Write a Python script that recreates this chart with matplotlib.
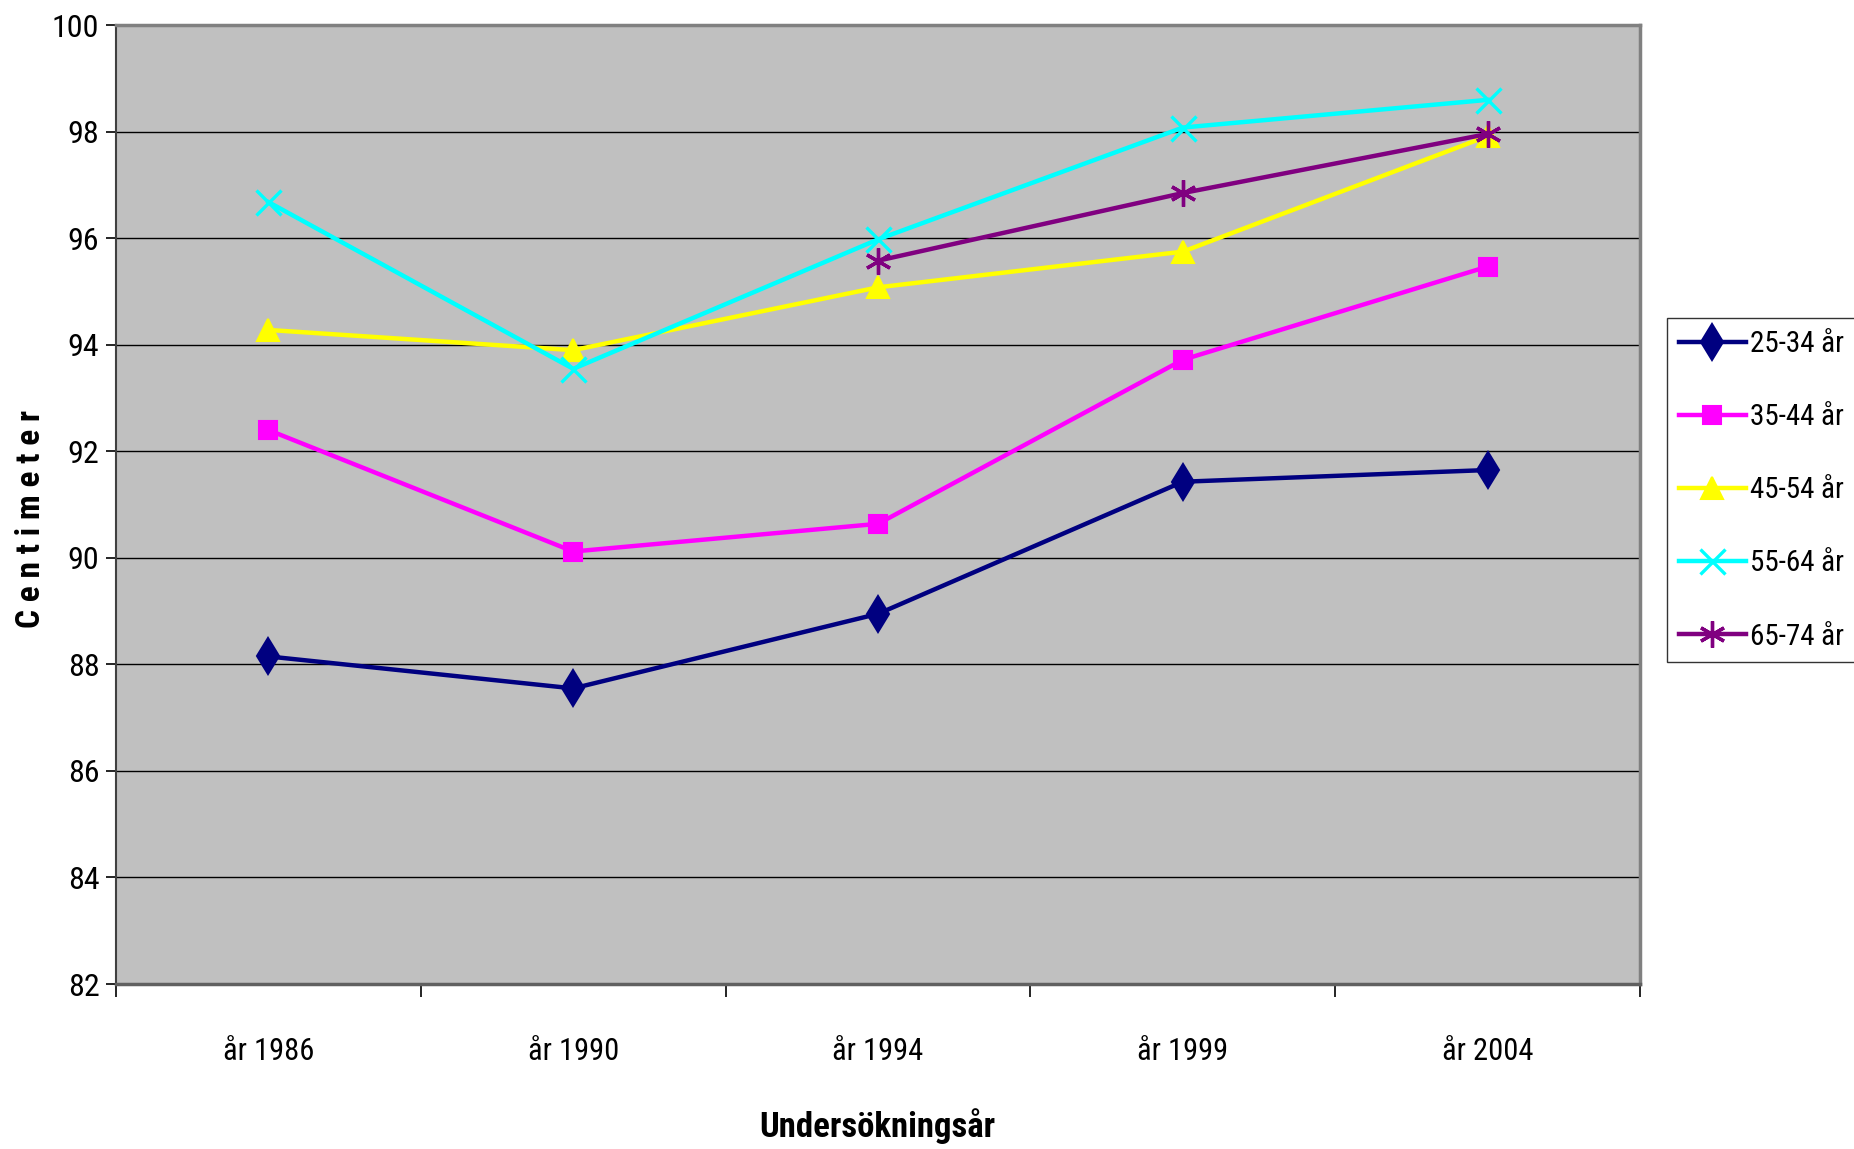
import matplotlib.pyplot as plt
from matplotlib import font_manager
from matplotlib.font_manager import FontProperties
from matplotlib.textpath import TextPath

# Data
years = ["år 1986", "år 1990", "år 1994", "år 1999", "år 2004"]
age_25_34 = [88.15, 87.55, 88.95, 91.43, 91.65]
age_35_44 = [92.40, 90.12, 90.64, 93.72, 95.47]
age_45_54 = [94.28, 93.90, 95.08, 95.75, 97.92]
age_55_64 = [96.68, 93.55, 95.98, 98.08, 98.60]
age_65_74 = [None, None, 95.58, 96.85, 97.96]
series_names = ["25-34 år", "35-44 år", "45-54 år", "55-64 år", "65-74 år"]
y_ticks = list(range(82, 101, 2))

FAMILIES = ["DejaVu Sans", "Liberation Sans", "Noto Sans", "Roboto",
            "Open Sans", "Lato", "Inter"]
WIDTH_WORDS = {"condensed", "extracondensed", "semicondensed", "ultracondensed",
               "narrow", "display", "extra", "semi", "ultra", "cond"}


def plain_sans(name):
    for fam in FAMILIES:
        if name == fam:
            return True
        if name.startswith(fam + " "):
            rest = name[len(fam):].lower().split()
            return all(w in WIDTH_WORDS for w in rest)
    return False


def digit_ratio(path):
    # advance of one digit relative to its height
    fp = FontProperties(fname=path)
    w = TextPath((0, 0), "0123456789", size=100, prop=fp).get_extents().width / 10
    h = TextPath((0, 0), "0", size=100, prop=fp).get_extents().height
    return w / h


# the reference uses a squeezed Arial, so pick the plain sans face whose
# digits are about as narrow
best = None
for f in font_manager.fontManager.ttflist:
    if not plain_sans(f.name):
        continue
    if f.weight not in (400, "normal", "regular") or f.style != "normal":
        continue
    try:
        r = digit_ratio(f.fname)
    except Exception:
        continue
    score = abs(r - 0.55)
    if best is None or score < best[0]:
        best = (score, f)

if best is not None:
    plt.rcParams["font.family"] = [best[1].name, "DejaVu Sans"]
    plt.rcParams["font.stretch"] = best[1].stretch
else:
    plt.rcParams["font.family"] = ["Liberation Sans", "DejaVu Sans"]
fs = 22

fig = plt.figure(figsize=(18.54, 11.49), dpi=100)
ax = fig.add_axes([0.0626, 0.1436, 0.822, 0.8344])
ax.set_facecolor("#c0c0c0")

styles = [
    ("#000080", "d", 18, 1.5),
    ("#ff00ff", "s", 13, 1.5),
    ("#ffff00", "^", 16, 1.5),
    ("#00ffff", "x", 18, 2.4),
    ("#800080", (6, 2, 0), 19, 2.4),
]
data = [age_25_34, age_35_44, age_45_54, age_55_64, age_65_74]

xs = list(range(len(years)))
for vals, name, (col, mk, ms, mew) in zip(data, series_names, styles):
    px = [x for x, v in zip(xs, vals) if v is not None]
    py = [v for v in vals if v is not None]
    ax.plot(px, py, color=col, lw=3.2, marker=mk, markersize=ms,
            markeredgewidth=mew, markeredgecolor=col, markerfacecolor=col,
            label=name, zorder=3)

ax.set_xlim(-0.5, len(years) - 0.5)
ax.set_ylim(82, 100)
ax.set_yticks(y_ticks)
ax.set_yticklabels([str(t) for t in y_ticks], fontsize=fs + 1)
ax.yaxis.grid(True, color="black", lw=1.0)
ax.set_axisbelow(True)

ax.set_xticks(xs)
ax.set_xticklabels(years, fontsize=fs)
ax.set_xticks([x - 0.5 for x in range(len(years) + 1)], minor=True)
ax.tick_params(axis="x", which="major", length=0, pad=38)
ax.tick_params(axis="x", which="minor", length=9, width=1.2, direction="out")
ax.tick_params(axis="y", length=7, width=1.2, direction="out", pad=5)

for s in ["top", "right"]:
    ax.spines[s].set_color("#808080")
    ax.spines[s].set_linewidth(2.5)
ax.spines["left"].set_color("#404040")
ax.spines["left"].set_linewidth(1.5)
ax.spines["bottom"].set_color("#606060")
ax.spines["bottom"].set_linewidth(2.5)

ax.set_xlabel("Undersökningsår", fontsize=fs + 3, fontweight="bold", va="center")
ax.xaxis.set_label_coords(0.4995, -0.148)
ax.set_ylabel("C e n t i m e t e r", fontsize=fs + 2, fontweight="bold", va="center")
ax.yaxis.set_label_coords(-0.056, 0.485)

leg = ax.legend(loc="upper left", bbox_to_anchor=(1.0177, 0.6945), fontsize=21,
                frameon=True, fancybox=False, edgecolor="black",
                handlelength=2.3, labelspacing=1.55, borderpad=0.4,
                handletextpad=0.15, borderaxespad=0)
leg.get_frame().set_linewidth(1.0)

fig.savefig("out.png", dpi=100)
